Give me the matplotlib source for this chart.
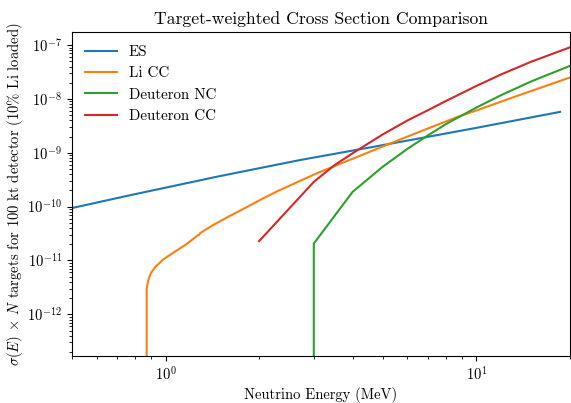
import matplotlib
matplotlib.use("Agg")
import matplotlib.pyplot as plt
import numpy as np

plt.rcParams['font.family'] = 'serif'
plt.rcParams['font.serif'] = ['cmr10']
plt.rcParams['mathtext.fontset'] = 'cm'
plt.rcParams['axes.formatter.use_mathtext'] = True
plt.rcParams['axes.unicode_minus'] = False

# ES (elastic scattering)
es_E = [0.5, 0.77, 1.49, 2.69, 4.84, 6.99, 10.0, 18.6]
es_sigma = [9.4e-11, 1.63e-10, 3.67e-10, 7.27e-10, 1.34e-9, 1.98e-9, 2.9e-9, 5.75e-9]

# Li CC
li_E = [0.86, 0.870, 0.880, 0.896, 0.924, 0.982, 1.057, 1.167, 1.271, 1.285, 1.294,
        1.419, 1.605, 1.815, 2.05, 2.32, 2.69, 3.11, 5.61, 6.99, 8.72, 10.0, 13.55, 20.0]
li_sigma = [0.0, 3.0e-12, 4.29e-12, 5.71e-12, 7.38e-12, 1.04e-11, 1.38e-11, 2.0e-11, 2.94e-11, 3.02e-11, 3.24e-11,
            4.51e-11, 6.63e-11, 9.62e-11, 1.40e-10, 2.0e-10, 2.95e-10, 4.3e-10, 1.71e-9, 2.83e-9, 4.65e-9, 6.1e-9, 1.14e-8, 2.5e-8]

# Deuteron NC
dnc_E = [2.99, 3.0, 4.0, 5.0, 6.0, 7.0, 8.0, 10.0, 12.0, 15.0, 20.0]
dnc_sigma = [0.0, 2.06e-11, 1.88e-10, 5.5e-10, 1.18e-9, 2.12e-9, 3.43e-9, 6.9e-9, 1.17e-8, 2.11e-8, 4.1e-8]

# Deuteron CC
dcc_E = [2.0, 3.0, 3.5, 4.0, 5.0, 6.0, 7.0, 8.0, 10.0, 12.0, 15.0, 20.0]
dcc_sigma = [2.28e-11, 2.88e-10, 5.9e-10, 9.8e-10, 2.19e-9, 3.97e-9, 6.2e-9, 9.2e-9, 1.74e-8, 2.84e-8, 4.9e-8, 9.06e-8]

fig = plt.figure(figsize=(5.71, 4.03), dpi=100)
ax = fig.add_axes([0.126, 0.1166, 0.872, 0.804])

ax.plot(es_E, es_sigma, color='#1f77b4', label='ES')
ax.plot(li_E, li_sigma, color='#ff7f0e', label='Li CC')
ax.plot(dnc_E, dnc_sigma, color='#2ca02c', label='Deuteron NC')
ax.plot(dcc_E, dcc_sigma, color='#d62728', label='Deuteron CC')

ax.set_xscale('log')
ax.set_yscale('log')
ax.set_xlim(0.5, 20)
ax.set_ylim(1.68e-13, 1.75e-7)
ax.tick_params(labelsize=10.5)

ax.set_xlabel('Neutrino Energy (MeV)', fontsize=10.5, labelpad=2)
ax.set_ylabel(r'$\sigma(E)$ $\times$ $N$ targets for 100 kt detector (10% Li loaded)', fontsize=10.5)
ax.yaxis.set_label_coords(-0.095, 0.5)
ax.set_title('Target-weighted Cross Section Comparison', fontsize=12.7)
ax.legend(loc='upper left', frameon=False, fontsize=10.8, handlelength=2.1)

fig.savefig('out.png', dpi=100)
